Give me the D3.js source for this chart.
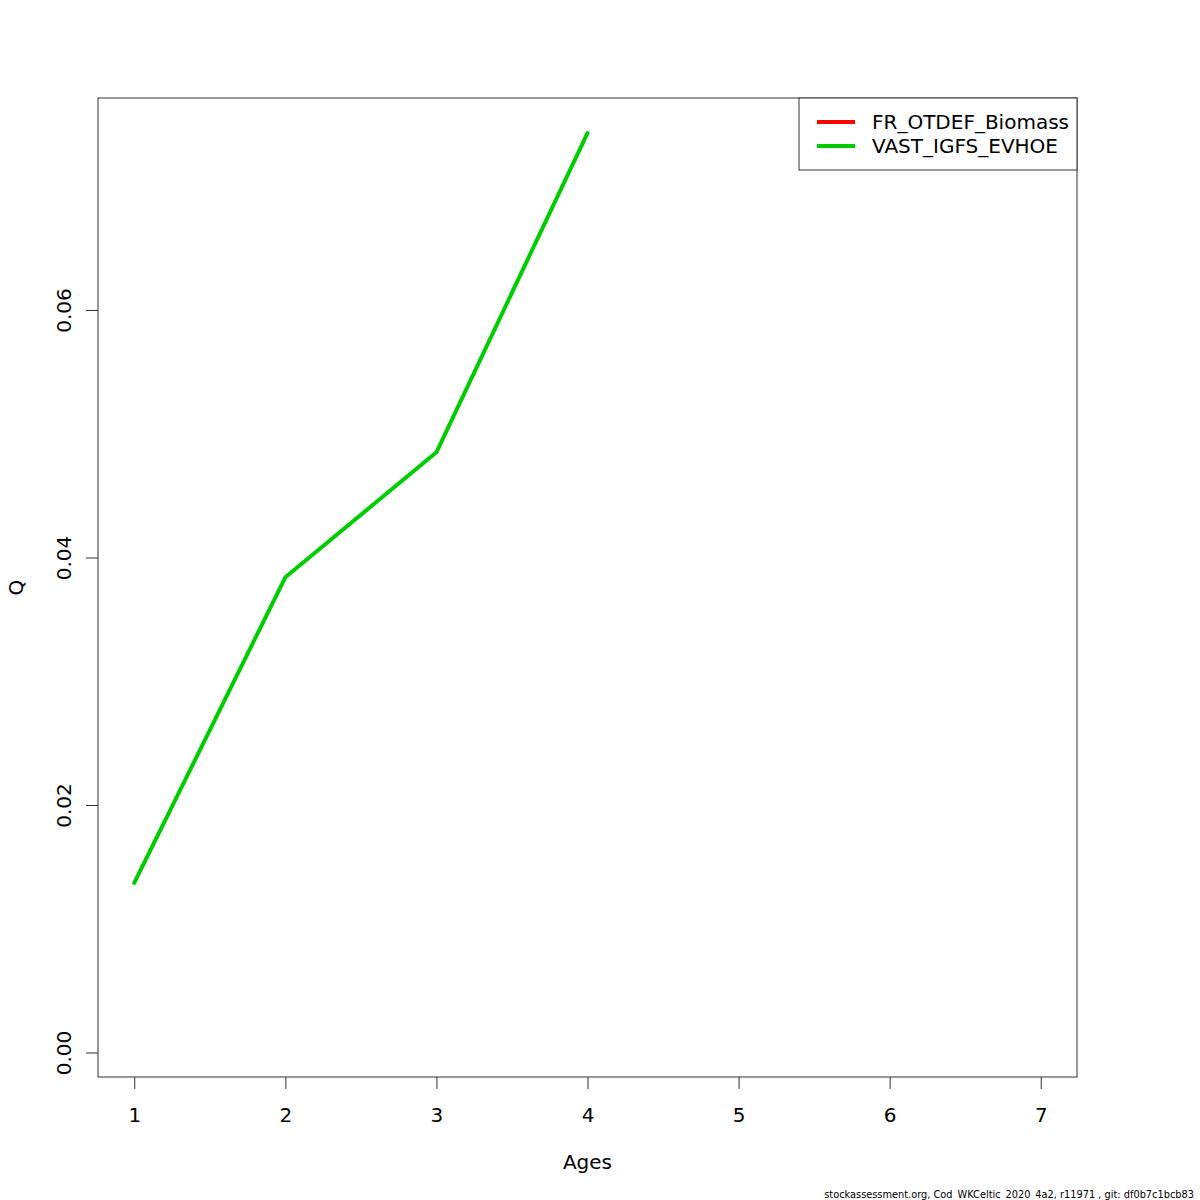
<!DOCTYPE html>
<html><head><meta charset="utf-8">
<script src="https://cdn.jsdelivr.net/npm/d3@7"></script>
<style>body{margin:0;background:#fff}svg{display:block}text{font-family:"DejaVu Sans",sans-serif}</style>
</head><body><svg id="c" width="1200" height="1200"></svg>
<script>
const ages = [1, 2, 3, 4];
const fleetNames = ["FR_OTDEF_Biomass", "VAST_IGFS_EVHOE"];
const fleetColors = ["#FF0000", "#00CD00"];
const qFR = [];
const qVAST = [0.0137, 0.0384, 0.0485, 0.0743];
const xTicks = [1, 2, 3, 4, 5, 6, 7];
const yTicks = [0.00, 0.02, 0.04, 0.06];

const svg = d3.select("#c");
const L = 98, R = 1077, T = 98, B = 1077;
const x = d3.scaleLinear().domain([0.76, 7.24]).range([L, R]);
const y = d3.scaleLinear().domain([-0.00198, 0.07713]).range([B, T]);

svg.append("rect").attr("width", 1200).attr("height", 1200).attr("fill", "#fff");

const series = [qFR, qVAST];
const line = d3.line().x((d, i) => x(ages[i])).y(d => y(d));
series.forEach((s, k) => {
  if (s.length) svg.append("path").attr("d", line(s)).attr("fill", "none")
    .attr("stroke", fleetColors[k]).attr("stroke-width", 4).attr("stroke-linejoin", "round").attr("stroke-linecap", "round");
});

svg.append("rect").attr("x", L).attr("y", T).attr("width", R - L).attr("height", B - T)
  .attr("fill", "none").attr("stroke", "#333").attr("stroke-width", 1);

const xa = svg.append("g").attr("transform", `translate(0,${B})`)
  .call(d3.axisBottom(x).tickValues(xTicks).tickSize(12).tickPadding(19).tickFormat(d3.format("d")));
xa.select(".domain").remove();
xa.selectAll("text").attr("font-size", 20).attr("fill", "#000").attr("font-family", "DejaVu Sans");
xa.selectAll("line").attr("stroke", "#333");

const ya = svg.append("g").attr("transform", `translate(${L},0)`)
  .call(d3.axisLeft(y).tickValues(yTicks).tickSize(12).tickFormat(d3.format(".2f")));
ya.select(".domain").remove();
ya.selectAll("line").attr("stroke", "#333");
ya.selectAll("text").remove();
ya.selectAll(".tick").append("text").attr("transform", "translate(-27,0) rotate(-90)")
  .attr("text-anchor", "middle").attr("font-size", 20).attr("fill", "#000")
  .text(d => d3.format(".2f")(d));

svg.append("text").attr("x", (L + R) / 2).attr("y", 1169).attr("text-anchor", "middle")
  .attr("font-size", 20).text("Ages");
svg.append("text").attr("transform", `translate(23,${(T + B) / 2}) rotate(-90)`).attr("text-anchor", "middle")
  .attr("font-size", 20).text("Q");

// legend
const lg = svg.append("g");
lg.append("rect").attr("x", 799).attr("y", T).attr("width", R - 799).attr("height", 72)
  .attr("fill", "#fff").attr("stroke", "#333").attr("stroke-width", 1);
fleetNames.forEach((n, i) => {
  const yy = 122 + i * 24;
  lg.append("line").attr("x1", 817).attr("x2", 855).attr("y1", yy).attr("y2", yy)
    .attr("stroke", fleetColors[i]).attr("stroke-width", 4);
  lg.append("text").attr("x", 872).attr("y", yy + 7).attr("font-size", 20).text(n);
});

svg.append("text").attr("x", 1194).attr("y", 1198).attr("text-anchor", "end")
  .attr("font-size", 9.8).attr("font-family", "Liberation Sans, Arial, sans-serif")
  .text("stockassessment.org, Cod_WKCeltic_2020_4a2, r11971 , git: df0b7c1bcb83");
</script></body></html>
